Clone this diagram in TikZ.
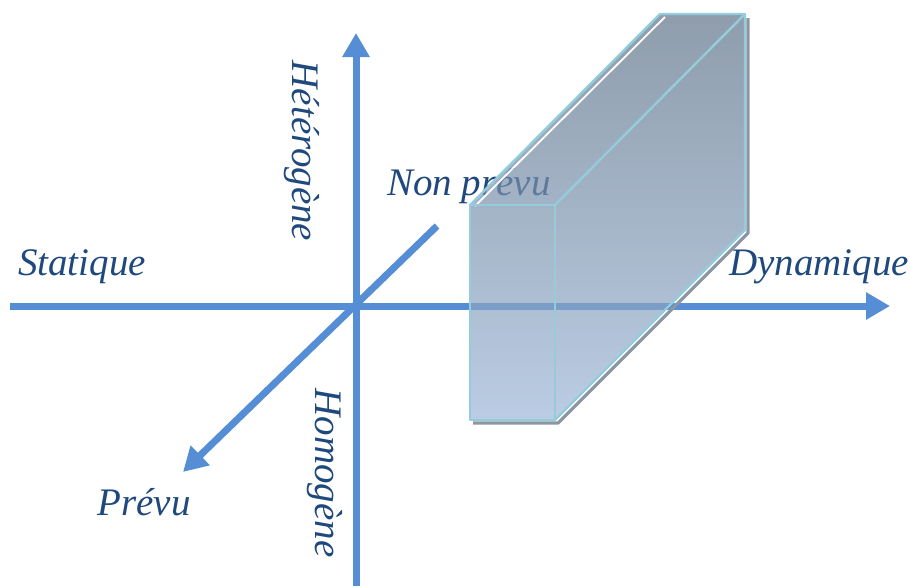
\documentclass[tikz,border=0pt]{standalone}
\usepackage{fontspec}
\setmainfont{Liberation Serif}
\usetikzlibrary{arrows.meta,calc}

\definecolor{axisblue}{HTML}{558ED5}
\definecolor{textblue}{HTML}{1F497D}
\definecolor{edgecyan}{HTML}{93CDDC}
\definecolor{boxtop}{HTML}{5F7388}
\definecolor{boxbot}{HTML}{9DB7D8}
\definecolor{shadowgray}{HTML}{8C96A2}

\begin{document}
\begin{tikzpicture}[
  x=0.5pt, y=-0.5pt,
  axis/.style={line width=3.5pt, draw=axisblue},
  tip/.style={-{Triangle[length=12pt, width=13pt]}, axisblue},
  lbl/.style={font=\itshape\fontsize{19.5}{20}\selectfont, text=textblue, inner sep=0pt},
  edge/.style={draw=edgecyan, line width=1.2pt, line join=round},
]
\useasboundingbox (0,0) rectangle (910,585);

% --- Axes ---
\coordinate (left) at (10,306);
\coordinate (right) at (890,306);
\coordinate (bottom) at (356,590);
\coordinate (top) at (356,33);
\coordinate (back) at (437,226);
\coordinate (front) at (183,472);

\draw[axis, tip] (left) -- (right);
\draw[axis, tip] (bottom) -- (top);
\draw[axis, tip] (back) -- (front);

% --- Labels ---
\node[lbl, anchor=base] (stat) at (82,275) {Statique};
\node[lbl, anchor=base] (dyn) at (819,275) {Dynamique};
\node[lbl, anchor=base] (prev) at (144,515) {Prévu};
\node[lbl, anchor=base] (nonprev) at (469,195) {Non prévu};
\node[lbl, rotate=-90] (het) at (302,151) {Hétérogène};
\node[lbl, rotate=-90] (hom) at (325,473) {Homogène};

% --- Prism ---
\coordinate (fa) at (470,205);
\coordinate (fb) at (555,205);
\coordinate (fc) at (555,420);
\coordinate (fd) at (470,420);
\coordinate (ba) at (660,14);
\coordinate (bb) at (745,14);
\coordinate (bc) at (745,230);

% shadow
\draw[shadowgray, line width=1.6pt, line join=round]
  ($(fd)+(3,3)$) -- ($(fc)+(3,3)$) -- ($(bc)+(3,3)$) -- ($(bb)+(3,4)$);

\shade[top color=boxtop, bottom color=boxbot, fill opacity=0.7]
  (fd) -- (fa) -- (ba) -- (bb) -- (bc) -- (fc) -- cycle;

\draw[white, line width=0.9pt] ($(fa)+(5,1)$) -- ($(ba)+(5,3)$);
\draw[edge] (fa) rectangle (fc);
\draw[edge] (fa) -- (ba) -- (bb) -- (bc) -- (fc);
\draw[edge] (fb) -- (bb);

\end{tikzpicture}
\end{document}
